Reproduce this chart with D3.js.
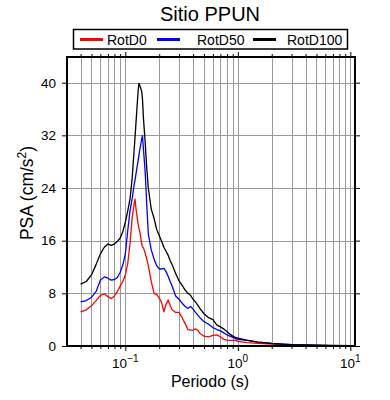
<!DOCTYPE html>
<html>
<head>
<meta charset="utf-8">
<script src="https://cdn.jsdelivr.net/npm/d3@7"></script>
<style>
  html, body { margin: 0; padding: 0; background: #fff; }
  svg { display: block; font-family: "Liberation Sans", Arial, Helvetica, sans-serif; }
</style>
</head>
<body>
<svg id="chart" width="390" height="400"></svg>
<script>
// ---- data ----
const title = "Sitio PPUN";
const xTitle = "Periodo (s)";
const yTitleMain = "PSA (cm/s";
const yTitleSup = "2";
const seriesNames = ["RotD0", "RotD50", "RotD100"];
const seriesColors = ["#ff0000", "#0000ff", "#000000"];

const periods = [0.040,0.045,0.050,0.055,0.060,0.065,0.070,0.075,0.080,0.085,0.090,0.095,0.100,0.105,0.110,0.115,0.120,
  0.122,0.125,0.130,0.132,0.135,0.140,0.142,0.145,0.150,0.155,
  0.16,0.17,0.18,0.19,0.20,0.21,0.22,0.23,0.24,0.25,0.26,
  0.28,0.30,0.32,0.34,0.36,0.38,0.40,0.42,0.44,0.46,0.48,0.50,
  0.55,0.60,0.65,0.70,0.75,0.80,0.85,0.90,0.95,1.0,
  1.2,1.5,2.0,2.5,3.0,4.0,5.0,7.0,10.0];

const rotD0 = [5.2,5.5,6.1,6.9,7.7,7.9,7.5,7.2,7.6,8.3,9.1,9.8,10.8,12.5,15.5,19.5,21.7,
  22.3,20.5,18.5,17.9,17.2,15.4,15.1,14.9,14.1,13.2,
  12.2,9.8,8.0,7.8,7.3,6.6,5.2,6.3,7.0,6.2,5.5,
  5.1,5.1,4.3,3.4,2.5,2.4,2.4,2.6,2.4,1.9,1.7,1.5,
  1.4,1.6,1.7,1.4,1.0,0.9,0.85,0.85,0.9,0.7,
  0.5,0.4,0.3,0.2,0.15,0.1,0.08,0.05,0.04];

const rotD50 = [6.7,6.9,7.4,8.3,10.0,10.5,10.3,10.0,10.1,10.4,11.2,12.3,14.0,17.5,20.5,22.4,24.6,
  25.2,26.4,28.2,29.0,30.0,31.5,32.0,29.8,26.5,21.5,
  17.0,14.6,13.2,12.2,11.7,11.7,11.8,11.3,10.6,9.8,9.1,
  7.6,7.1,6.5,6.0,5.7,6.0,5.6,5.1,4.7,4.3,4.0,3.7,
  3.3,2.8,2.5,2.3,2.0,1.7,1.5,1.3,1.15,1.0,
  0.85,0.6,0.4,0.3,0.2,0.15,0.1,0.07,0.05];

const rotD100 = [9.4,9.8,10.8,12.4,14.0,15.0,15.5,15.3,15.5,15.9,16.4,17.4,18.8,20.5,22.3,25.5,30.0,
  31.8,34.5,38.8,39.9,39.5,38.6,37.5,34.5,31.0,27.0,
  24.0,20.8,19.4,17.7,16.8,15.9,15.0,14.4,13.8,13.0,12.4,
  11.0,9.9,9.2,8.5,8.0,7.7,7.1,6.7,6.2,5.7,5.3,4.9,
  4.3,4.0,3.2,2.9,2.6,2.2,1.8,1.5,1.3,1.2,
  0.9,0.6,0.4,0.3,0.22,0.18,0.12,0.08,0.06];

const xMajorTicks = [0.1, 1, 10];
const xTickBase = ["10", "10", "10"];
const xTickExp = ["\u22121", "0", "1"];
const yTicks = [0, 8, 16, 24, 32, 40];

// ---- layout ----
const svg = d3.select("#chart");
const L = 67, R = 355, T = 57, B = 346;
const x = d3.scaleLog().domain([0.0303, 11]).range([L, R]);
const y = d3.scaleLinear().domain([0, 43.9]).range([B, T]);

const minorTicks = x.ticks().filter(t => t >= x.domain()[0] && t <= x.domain()[1]);

// grid
const grid = svg.append("g").attr("stroke", "#9a9a9a").attr("stroke-width", 1);
grid.selectAll("line.v").data(minorTicks).join("line")
  .attr("x1", d => Math.round(x(d)) + 0.5).attr("x2", d => Math.round(x(d)) + 0.5)
  .attr("y1", T).attr("y2", B);
grid.selectAll("line.h").data(yTicks.filter(d => d > 0)).join("line")
  .attr("x1", L).attr("x2", R)
  .attr("y1", d => Math.round(y(d)) + 0.5).attr("y2", d => Math.round(y(d)) + 0.5);

// axes with ticks (outward)
const isMajor = d => xMajorTicks.some(m => Math.abs(Math.log10(d) - Math.log10(m)) < 1e-6);
const axB = svg.append("g").attr("transform", `translate(0,${B})`)
  .call(d3.axisBottom(x).tickValues(minorTicks).tickFormat("").tickSizeOuter(0));
axB.selectAll(".tick line").attr("y2", d => isMajor(d) ? 5 : 3).attr("stroke", "#000");
axB.select(".domain").remove();
const axT = svg.append("g").attr("transform", `translate(0,${T})`)
  .call(d3.axisTop(x).tickValues(minorTicks).tickFormat("").tickSizeOuter(0));
axT.selectAll(".tick line").attr("y2", d => isMajor(d) ? -5 : -3).attr("stroke", "#000");
axT.select(".domain").remove();

const axL = svg.append("g").attr("transform", `translate(${L},0)`)
  .call(d3.axisLeft(y).tickValues(yTicks).tickSize(5).tickPadding(6).tickSizeOuter(0));
axL.select(".domain").remove();
axL.selectAll(".tick text").attr("font-size", 13.5).attr("fill", "#000")
  .attr("font-family", "'Liberation Sans', Arial, sans-serif");
axL.selectAll(".tick line").attr("stroke", "#000");
const axR = svg.append("g").attr("transform", `translate(${R},0)`)
  .call(d3.axisRight(y).tickValues(yTicks).tickSize(5).tickFormat("").tickSizeOuter(0));
axR.select(".domain").remove();
axR.selectAll(".tick line").attr("stroke", "#000");

// x tick labels with superscripts
const xl = svg.append("g").selectAll("text").data(xMajorTicks).join("text")
  .attr("x", d => x(d)).attr("y", B + 22)
  .attr("text-anchor", "middle").attr("font-size", 13.5).attr("fill", "#000");
xl.append("tspan").text((d, i) => xTickBase[i]);
xl.append("tspan").attr("dy", -6).attr("font-size", 10).text((d, i) => xTickExp[i]);

// lines
const seriesData = [rotD0, rotD50, rotD100];
const line = d3.line().x(d => x(d[0])).y(d => y(d[1]));
svg.append("g").selectAll("path").data(seriesData).join("path")
  .attr("d", s => line(periods.map((p, i) => [p, s[i]])))
  .attr("fill", "none")
  .attr("stroke", (s, i) => seriesColors[i])
  .attr("stroke-width", 1.3)
  .attr("stroke-linejoin", "round");

// frame
svg.append("rect").attr("x", L).attr("y", T).attr("width", R - L).attr("height", B - T)
  .attr("fill", "none").attr("stroke", "#000").attr("stroke-width", 2);

// titles
svg.append("text").attr("x", 210).attr("y", 21).attr("text-anchor", "middle")
  .attr("font-size", 20).attr("fill", "#000").text(title);
svg.append("text").attr("x", (L + R) / 2 - 1).attr("y", 387).attr("text-anchor", "middle")
  .attr("font-size", 16).attr("fill", "#000").text(xTitle);
const yt = svg.append("text").attr("transform", `translate(33,193) rotate(-90)`)
  .attr("text-anchor", "middle").attr("font-size", 17.5).attr("fill", "#000");
yt.append("tspan").text(yTitleMain);
yt.append("tspan").attr("dy", -7).attr("font-size", 12).text(yTitleSup);
yt.append("tspan").attr("dy", 7).text(")");

// legend
const lg = svg.append("g");
lg.append("rect").attr("x", 73.5).attr("y", 29.5).attr("width", 274).attr("height", 19.5)
  .attr("fill", "#fff").attr("stroke", "#000").attr("stroke-width", 1.5);
const legX = [80, 157, 253];
const legTextX = [107, 197, 287];
const le = lg.selectAll("g.e").data(seriesNames).join("g");
le.append("line").attr("x1", (d, i) => legX[i]).attr("x2", (d, i) => legX[i] + 23)
  .attr("y1", 39.5).attr("y2", 39.5)
  .attr("stroke", (d, i) => seriesColors[i]).attr("stroke-width", 3);
le.append("text").attr("x", (d, i) => legTextX[i]).attr("y", 44.5)
  .attr("font-size", 14).attr("fill", "#000").text(d => d);
</script>
</body>
</html>
